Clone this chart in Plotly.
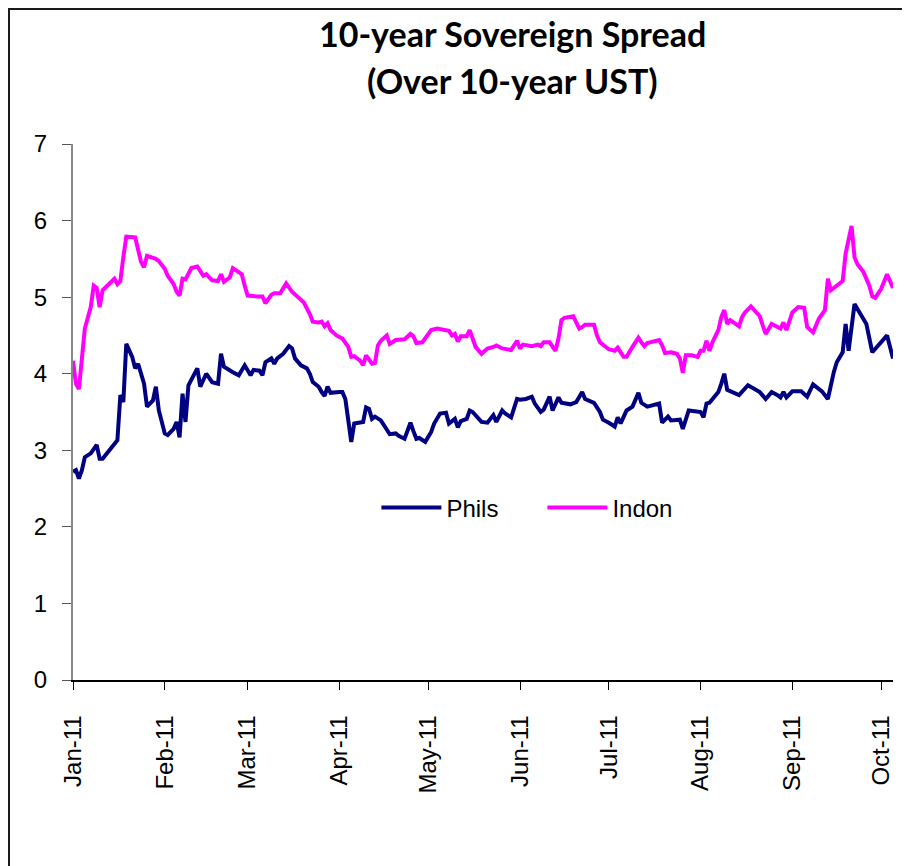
import plotly.graph_objects as go

phils_dates = ["01-01","01-02","01-03","01-04","01-05","01-07","01-09","01-10","01-11","01-13","01-15","01-16","01-17","01-18","01-19","01-21","01-22","01-23","01-25","01-26","01-28","01-29","01-30",
"02-01","02-02","02-04","02-05","02-06","02-07","02-08","02-09","02-10","02-12","02-13","02-15","02-17","02-19","02-20","02-21","02-24","02-26","02-28",
"03-02","03-03","03-05","03-06","03-07","03-09","03-10","03-11","03-13","03-15","03-16","03-17","03-19","03-21","03-22","03-23","03-25","03-26","03-27","03-28","03-29",
"04-01","04-02","04-03","04-05","04-06","04-08","04-09","04-10","04-11","04-12","04-13","04-15","04-16","04-18","04-20","04-21","04-23","04-25","04-26","04-27","04-28","04-30",
"05-02","05-03","05-05","05-07","05-08","05-10","05-11","05-12","05-14","05-15","05-16","05-17","05-19","05-21","05-23","05-24","05-26","05-27","05-29","05-31",
"06-01","06-03","06-05","06-06","06-08","06-09","06-11","06-12","06-14","06-15","06-18","06-20","06-22","06-23","06-26","06-28","06-29",
"07-01","07-03","07-04","07-05","07-07","07-09","07-11","07-12","07-14","07-18","07-19","07-21","07-22","07-25","07-26","07-28","07-30",
"08-01","08-02","08-03","08-04","08-07","08-08","08-09","08-10","08-12","08-14","08-17","08-19","08-21","08-23","08-25","08-27","08-28","08-29","08-30",
"09-01","09-04","09-06","09-08","09-11","09-13","09-15","09-16","09-18","09-19","09-20","09-22","09-24","09-26","09-28","09-30",
"10-03","10-05"]
phils_values = [2.72,2.74,2.63,2.74,2.91,2.96,3.07,2.89,2.89,2.98,3.07,3.13,3.72,3.63,4.39,4.22,4.07,4.13,3.87,3.57,3.65,3.83,3.52,
3.22,3.20,3.28,3.37,3.17,3.74,3.37,3.85,3.93,4.07,3.83,4.00,3.89,3.87,4.26,4.09,4.02,3.98,4.11,
3.98,4.05,4.04,3.98,4.15,4.20,4.13,4.20,4.26,4.36,4.33,4.20,4.11,4.07,4.00,3.89,3.83,3.76,3.71,3.83,3.75,
3.76,3.76,3.67,3.11,3.35,3.36,3.37,3.56,3.54,3.41,3.44,3.39,3.33,3.21,3.22,3.19,3.15,3.36,3.25,3.15,3.16,3.11,
3.24,3.35,3.48,3.49,3.35,3.41,3.30,3.38,3.41,3.52,3.50,3.46,3.37,3.36,3.46,3.37,3.52,3.48,3.43,3.67,
3.66,3.67,3.70,3.61,3.50,3.53,3.70,3.52,3.69,3.62,3.60,3.63,3.76,3.67,3.62,3.50,3.40,
3.36,3.31,3.43,3.35,3.52,3.57,3.75,3.62,3.57,3.61,3.36,3.44,3.39,3.40,3.28,3.52,3.51,
3.50,3.43,3.61,3.62,3.76,3.87,4.00,3.79,3.76,3.72,3.85,3.80,3.76,3.67,3.76,3.72,3.69,3.76,3.69,
3.77,3.77,3.70,3.86,3.77,3.67,4.02,4.15,4.28,4.65,4.30,4.91,4.78,4.65,4.28,4.37,
4.50,4.20]

indon_dates = ["01-01","01-02","01-03","01-04","01-05","01-07","01-08","01-09","01-10","01-11","01-12","01-14","01-15","01-16","01-17","01-18","01-19","01-22","01-23","01-24","01-25","01-26","01-29","01-30",
"02-01","02-02","02-04","02-05","02-06","02-07","02-08","02-10","02-12","02-14","02-15","02-17","02-19","02-20","02-21","02-23","02-24","02-27","02-28",
"03-01","03-04","03-06","03-07","03-09","03-10","03-12","03-14","03-16","03-18","03-20","03-22","03-23","03-25","03-26","03-27","03-28","03-29","03-31",
"04-02","04-04","04-05","04-06","04-08","04-09","04-10","04-12","04-13","04-14","04-15","04-17","04-18","04-20","04-23","04-25","04-26","04-27","04-29","04-30",
"05-02","05-04","05-07","05-08","05-09","05-10","05-11","05-12","05-14","05-15","05-16","05-17","05-19","05-21","05-23","05-24","05-26","05-29","05-30","05-31",
"06-01","06-02","06-05","06-07","06-08","06-09","06-11","06-13","06-14","06-15","06-16","06-19","06-20","06-21","06-22","06-23","06-26","06-27","06-28","06-30",
"07-01","07-03","07-04","07-06","07-07","07-09","07-11","07-12","07-13","07-14","07-18","07-19","07-20","07-22","07-24","07-25","07-26","07-27","07-29","07-31",
"08-01","08-02","08-03","08-04","08-05","08-07","08-08","08-09","08-10","08-11","08-13","08-14","08-15","08-16","08-18","08-19","08-21","08-22","08-23","08-25","08-27","08-28","08-29","08-30",
"09-01","09-03","09-05","09-06","09-08","09-10","09-12","09-13","09-14","09-16","09-18","09-19","09-21","09-22","09-23","09-25","09-27","09-28","09-29",
"10-01","10-03","10-05"]
indon_values = [4.17,3.87,3.80,4.26,4.59,4.87,5.15,5.12,4.87,5.09,5.13,5.20,5.24,5.17,5.21,5.52,5.79,5.78,5.59,5.46,5.39,5.54,5.50,5.47,
5.37,5.28,5.17,5.07,5.02,5.24,5.23,5.38,5.40,5.28,5.30,5.22,5.21,5.30,5.20,5.26,5.38,5.30,5.15,
5.02,5.01,5.01,4.92,5.03,5.05,5.05,5.18,5.07,5.00,4.93,4.78,4.68,4.67,4.68,4.62,4.66,4.57,4.50,
4.46,4.35,4.22,4.23,4.17,4.11,4.24,4.13,4.14,4.37,4.43,4.50,4.39,4.44,4.45,4.52,4.49,4.40,4.41,4.46,
4.57,4.59,4.57,4.56,4.50,4.52,4.42,4.49,4.49,4.57,4.46,4.35,4.26,4.33,4.35,4.37,4.33,4.31,4.37,4.43,
4.33,4.38,4.36,4.38,4.36,4.41,4.41,4.30,4.46,4.70,4.73,4.75,4.67,4.59,4.61,4.64,4.64,4.50,4.41,4.35,
4.32,4.30,4.34,4.22,4.22,4.35,4.47,4.41,4.36,4.40,4.44,4.37,4.27,4.28,4.26,4.20,4.01,4.24,4.24,4.22,
4.30,4.30,4.43,4.30,4.41,4.57,4.74,4.83,4.65,4.70,4.65,4.62,4.74,4.80,4.88,4.83,4.75,4.63,4.52,4.65,4.61,4.59,4.67,4.57,
4.80,4.87,4.86,4.61,4.54,4.72,4.83,5.24,5.09,5.15,5.21,5.57,5.93,5.52,5.43,5.33,5.15,5.01,4.99,
5.11,5.30,5.12]

month_ticks = ["2011-01-01","2011-02-01","2011-03-01","2011-04-01","2011-05-01","2011-06-01",
               "2011-07-01","2011-08-01","2011-09-01","2011-10-01"]
month_labels = ["Jan-11","Feb-11","Mar-11","Apr-11","May-11","Jun-11","Jul-11","Aug-11","Sep-11","Oct-11"]
title_lines = ["10-year Sovereign Spread", "(Over 10-year UST)"]

YEAR = "2011-"
fig = go.Figure()
fig.add_trace(go.Scatter(x=[YEAR + d for d in phils_dates], y=phils_values, name="Phils",
                         mode="lines", line=dict(color="#000080", width=4)))
fig.add_trace(go.Scatter(x=[YEAR + d for d in indon_dates], y=indon_values, name="Indon",
                         mode="lines", line=dict(color="#FF00FF", width=4)))

tick_font = dict(family="Liberation Sans, Arial, sans-serif", size=24, color="#000000")
title_font = dict(family="Lato, Open Sans, sans-serif", size=34, color="#000000")

W, H = 902, 858
L, R, T, B = 65, 17, 136, 186
PW, PH = W - L - R, H - T - B

fig.update_layout(
    width=W, height=H,
    margin=dict(l=L, r=R, t=T, b=B),
    paper_bgcolor="#ffffff",
    plot_bgcolor="#ffffff",
    showlegend=True,
    legend=dict(orientation="h", x=0.37, y=0.321, xanchor="left", yanchor="middle",
                font=tick_font, bgcolor="rgba(0,0,0,0)", itemwidth=60,
                entrywidth=91, entrywidthmode="pixels"),
    xaxis=dict(
        type="date", range=["2011-01-01", "2011-10-05"],
        tickmode="array", tickvals=month_ticks, ticktext=month_labels,
        tickangle=-90, tickfont=tick_font,
        ticks="outside", ticklen=8, tickcolor="#000000", tickwidth=1,
        showline=True, linecolor="#000000", linewidth=1.5,
        showgrid=False, zeroline=False, ticklabelstandoff=16,
    ),
    yaxis=dict(
        range=[0, 7], tickvals=[0, 1, 2, 3, 4, 5, 6, 7], tickfont=tick_font,
        ticks="outside", ticklen=9, tickcolor="#555555", tickwidth=1,
        showline=True, linecolor="#888888", linewidth=2,
        showgrid=False, zeroline=False, ticklabelstandoff=10,
    ),
    annotations=[
        dict(text="<b>%s</b>" % title_lines[0], xref="paper", yref="paper",
             x=(504 - L) / PW, y=1 + (T - 26) / PH, xanchor="center", yanchor="middle",
             showarrow=False, font=title_font),
        dict(text="<b>%s</b>" % title_lines[1], xref="paper", yref="paper",
             x=(504 - L) / PW, y=1 + (T - 72) / PH, xanchor="center", yanchor="middle",
             showarrow=False, font=title_font),
    ],
    shapes=[dict(type="rect", xref="paper", yref="paper",
                 x0=(1 - L) / PW, x1=1.2, y0=-0.6, y1=1 + (T - 1) / PH,
                 fillcolor="rgba(0,0,0,0)", line=dict(color="#1a1a1a", width=2), layer="below")],
)

fig.write_html("out.html")
